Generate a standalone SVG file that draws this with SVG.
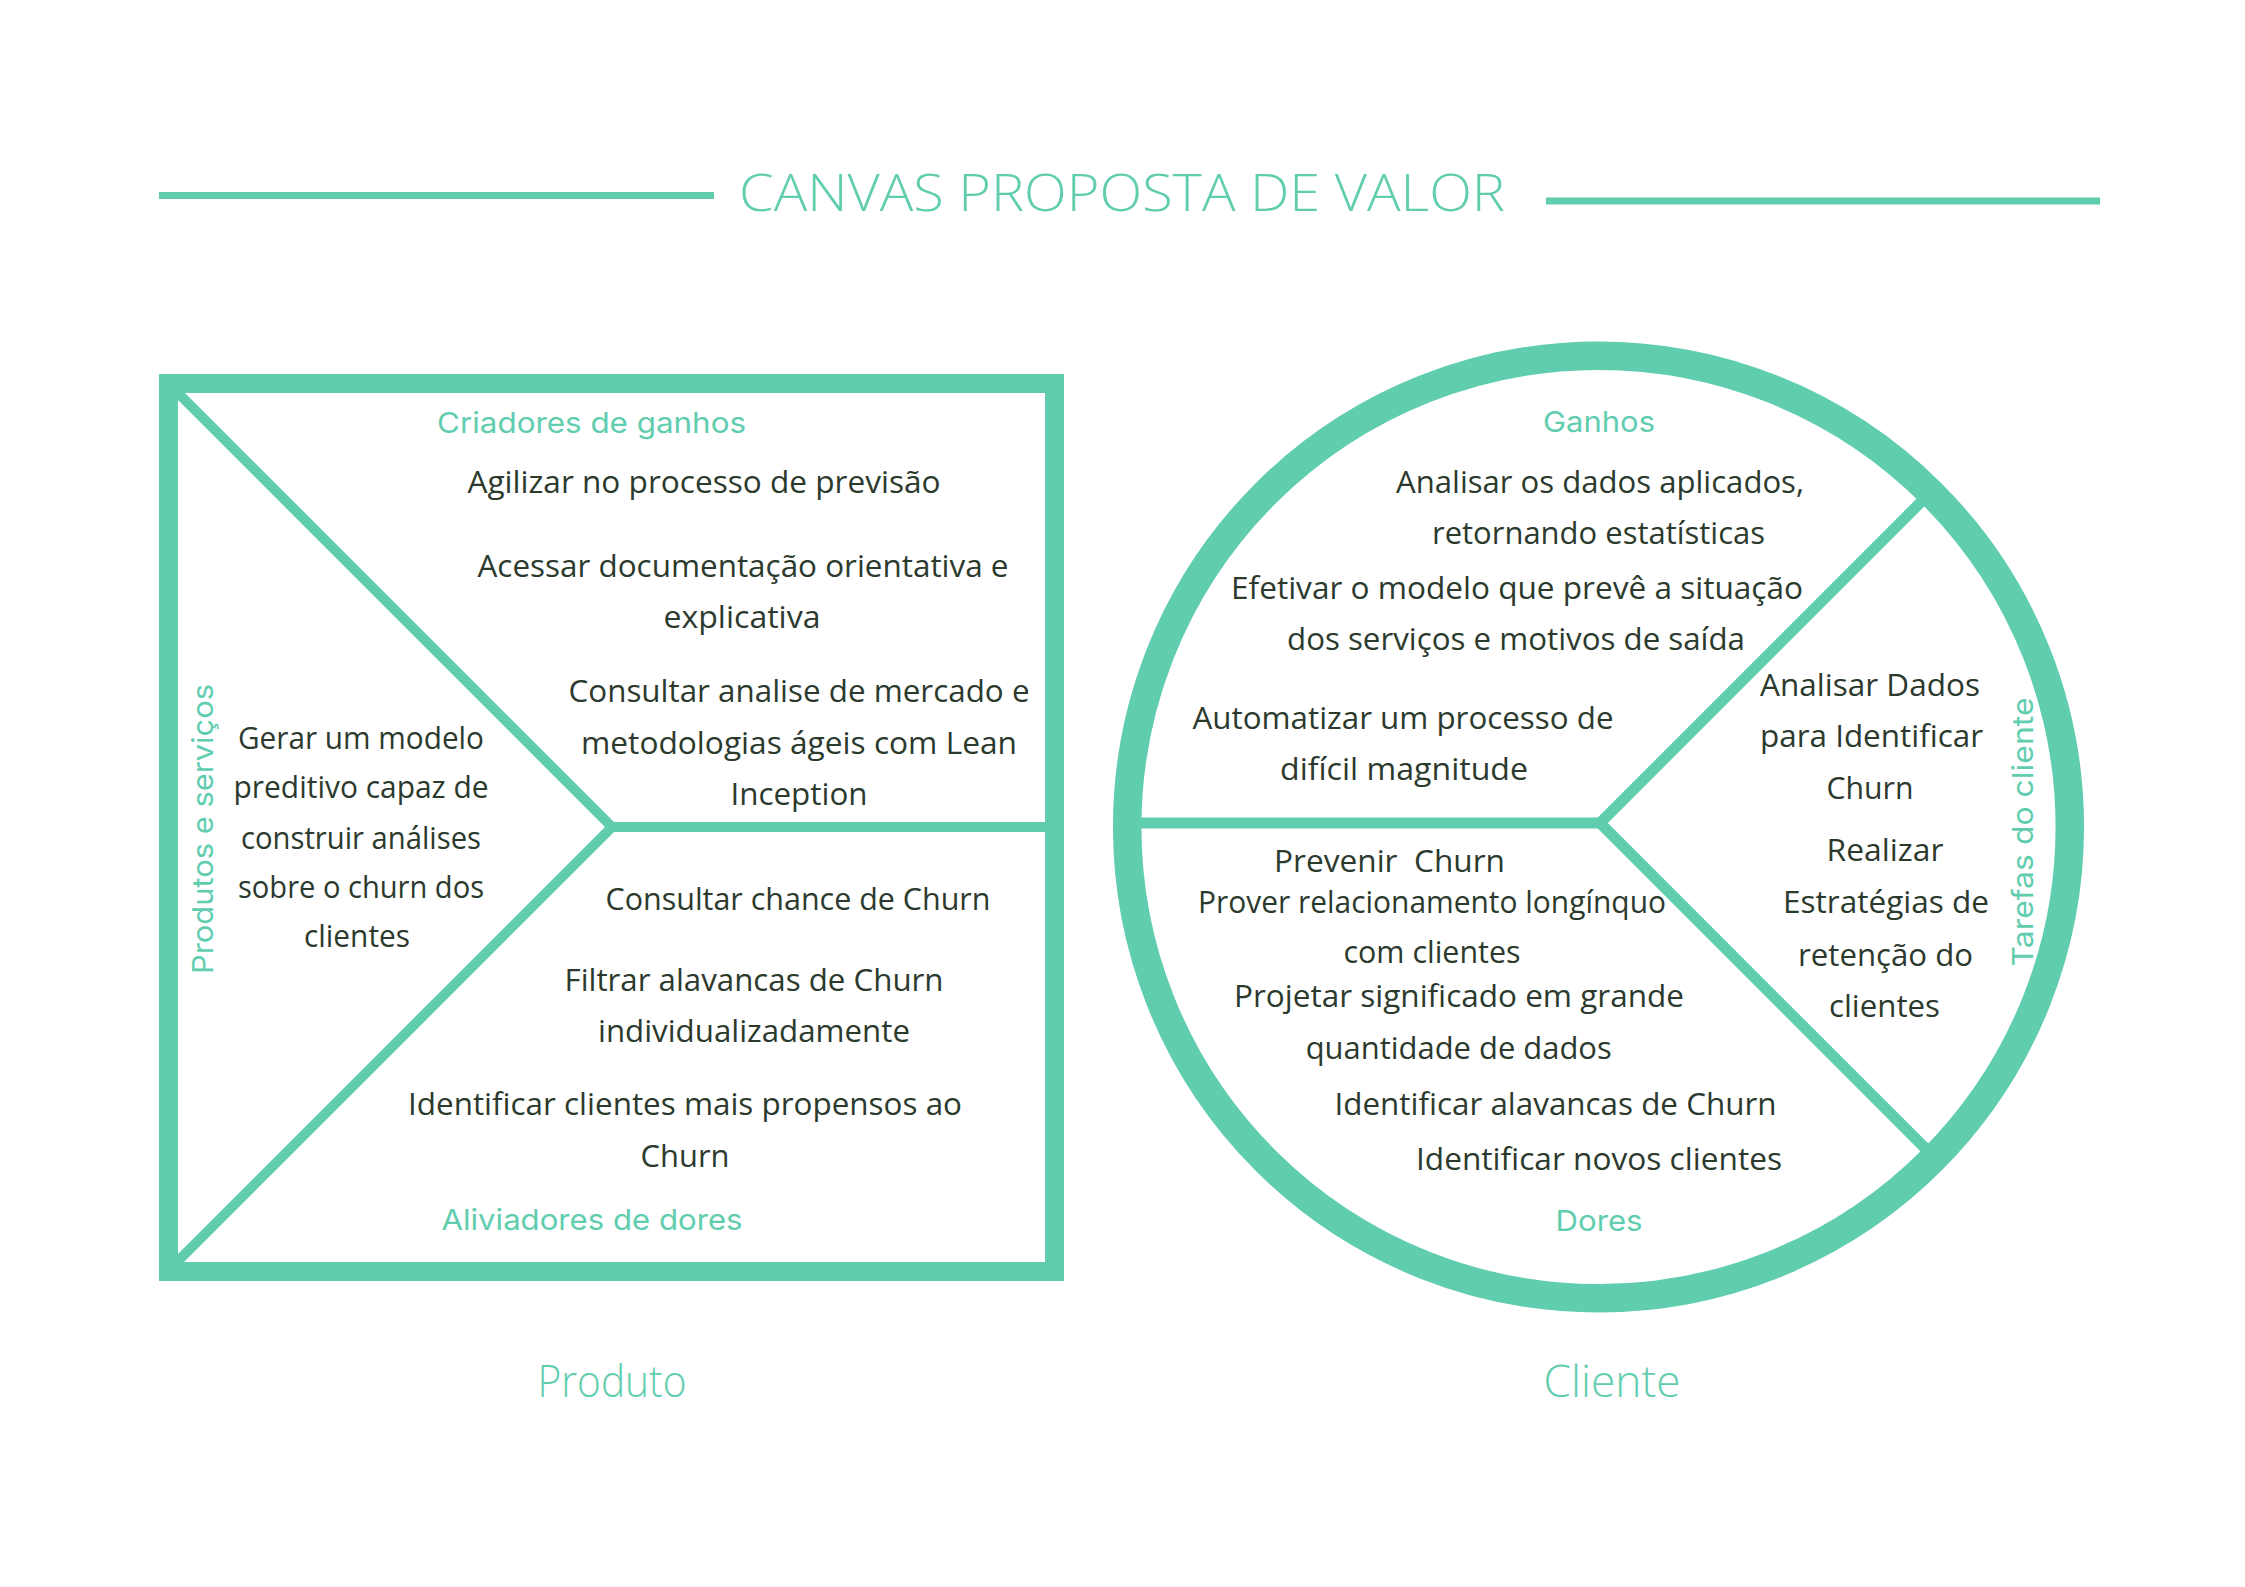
<svg xmlns="http://www.w3.org/2000/svg" width="2245" height="1587" viewBox="0 0 2245 1587">
<style>
.t{font-family:"Open Sans","Liberation Sans",sans-serif;font-size:31px;fill:#2c3a2e;text-anchor:middle}
.lb{font-family:"Inter","Liberation Sans",sans-serif;font-size:29px;fill:#61cdaf;text-anchor:middle}
.ttl{font-family:"Open Sans","Liberation Sans",sans-serif;font-weight:300;fill:#61cdaf;text-anchor:middle}
.ln{stroke:#61cdaf;fill:none}
</style>
<rect width="2245" height="1587" fill="#ffffff"/>
<g id="title">
<line class="ln" x1="159" y1="195.5" x2="714" y2="195.5" stroke-width="7"/>
<line class="ln" x1="1546" y1="201" x2="2100" y2="201" stroke-width="7"/>
<text class="ttl" x="1122" y="211" font-size="52" textLength="766" lengthAdjust="spacingAndGlyphs">CANVAS PROPOSTA DE VALOR</text>
</g>
<g id="connectors">
<polyline class="ln" points="168,383 612,827 168,1271" stroke-width="10" stroke-linejoin="miter"/>
<line class="ln" x1="612" y1="827" x2="1056" y2="827" stroke-width="10"/>
<polyline class="ln" points="1930,493 1600,823 1930,1153" stroke-width="11" stroke-linejoin="miter"/>
<line class="ln" x1="1125" y1="823" x2="1600" y2="823" stroke-width="11"/>
</g>
<g id="produto-frame">
<rect class="ln" x="168.5" y="383.5" width="886" height="888" stroke-width="19"/>
</g>
<g id="cliente-frame">
<circle class="ln" cx="1598.5" cy="827" r="471.3" stroke-width="28.5"/>
</g>
<g id="criadores-de-ganhos">
<text class="lb" x="591.5" y="433" textLength="309" lengthAdjust="spacingAndGlyphs">Criadores de ganhos</text>
<text class="t" x="704" y="493" textLength="473" lengthAdjust="spacingAndGlyphs">Agilizar no processo de previsão</text>
<text class="t" x="743" y="577" textLength="531" lengthAdjust="spacingAndGlyphs">Acessar documentação orientativa e</text>
<text class="t" x="742" y="627.5" textLength="157" lengthAdjust="spacingAndGlyphs">explicativa</text>
<text class="t" x="799" y="702" textLength="461" lengthAdjust="spacingAndGlyphs">Consultar analise de mercado e</text>
<text class="t" x="799" y="754" textLength="436" lengthAdjust="spacingAndGlyphs">metodologias ágeis com Lean</text>
<text class="t" x="799" y="805" textLength="137" lengthAdjust="spacingAndGlyphs">Inception</text>
</g>
<g id="produtos-e-servicos">
<text class="lb" x="213" y="829" transform="rotate(-90 213 829)" textLength="290" lengthAdjust="spacingAndGlyphs">Produtos e serviços</text>
<text class="t" x="361" y="748.5" textLength="246" lengthAdjust="spacingAndGlyphs">Gerar um modelo</text>
<text class="t" x="361" y="797.5" textLength="255" lengthAdjust="spacingAndGlyphs">preditivo capaz de</text>
<text class="t" x="361" y="848.5" textLength="240" lengthAdjust="spacingAndGlyphs">construir análises</text>
<text class="t" x="361" y="897.5" textLength="246" lengthAdjust="spacingAndGlyphs">sobre o churn dos</text>
<text class="t" x="357" y="947" textLength="106" lengthAdjust="spacingAndGlyphs">clientes</text>
</g>
<g id="aliviadores-de-dores">
<text class="t" x="798" y="909.5" textLength="385" lengthAdjust="spacingAndGlyphs">Consultar chance de Churn</text>
<text class="t" x="754" y="991" textLength="379" lengthAdjust="spacingAndGlyphs">Filtrar alavancas de Churn</text>
<text class="t" x="754" y="1042" textLength="312" lengthAdjust="spacingAndGlyphs">individualizadamente</text>
<text class="t" x="685" y="1115" textLength="554" lengthAdjust="spacingAndGlyphs">Identificar clientes mais propensos ao</text>
<text class="t" x="685" y="1167" textLength="89" lengthAdjust="spacingAndGlyphs">Churn</text>
<text class="lb" x="592" y="1229.5" textLength="301" lengthAdjust="spacingAndGlyphs">Aliviadores de dores</text>
</g>
<g id="ganhos">
<text class="lb" x="1599" y="432" textLength="112" lengthAdjust="spacingAndGlyphs">Ganhos</text>
<text class="t" x="1600" y="493" textLength="408" lengthAdjust="spacingAndGlyphs">Analisar os dados aplicados,</text>
<text class="t" x="1598.5" y="543.5" textLength="333" lengthAdjust="spacingAndGlyphs">retornando estatísticas</text>
<text class="t" x="1517" y="598.5" textLength="572" lengthAdjust="spacingAndGlyphs">Efetivar o modelo que prevê a situação</text>
<text class="t" x="1516" y="650" textLength="458" lengthAdjust="spacingAndGlyphs">dos serviços e motivos de saída</text>
<text class="t" x="1403" y="728.5" textLength="421" lengthAdjust="spacingAndGlyphs">Automatizar um processo de</text>
<text class="t" x="1404" y="780" textLength="248" lengthAdjust="spacingAndGlyphs">difícil magnitude</text>
</g>
<g id="tarefas-do-cliente">
<text class="lb" x="2033" y="832" transform="rotate(-90 2033 832)" textLength="269" lengthAdjust="spacingAndGlyphs">Tarefas do cliente</text>
<text class="t" x="1870" y="696" textLength="220" lengthAdjust="spacingAndGlyphs">Analisar Dados</text>
<text class="t" x="1871.5" y="747" textLength="223" lengthAdjust="spacingAndGlyphs">para Identificar</text>
<text class="t" x="1870" y="799" textLength="87" lengthAdjust="spacingAndGlyphs">Churn</text>
<text class="t" x="1885" y="861" textLength="117" lengthAdjust="spacingAndGlyphs">Realizar</text>
<text class="t" x="1886" y="913" textLength="206" lengthAdjust="spacingAndGlyphs">Estratégias de</text>
<text class="t" x="1885.5" y="965.5" textLength="175" lengthAdjust="spacingAndGlyphs">retenção do</text>
<text class="t" x="1884.5" y="1016.5" textLength="111" lengthAdjust="spacingAndGlyphs">clientes</text>
</g>
<g id="dores">
<text class="t" x="1389.5" y="871.5" textLength="231" lengthAdjust="spacingAndGlyphs">Prevenir&#160; Churn</text>
<text class="t" x="1432" y="913" textLength="468" lengthAdjust="spacingAndGlyphs">Prover relacionamento longínquo</text>
<text class="t" x="1432" y="963" textLength="177" lengthAdjust="spacingAndGlyphs">com clientes</text>
<text class="t" x="1459" y="1007" textLength="450" lengthAdjust="spacingAndGlyphs">Projetar significado em grande</text>
<text class="t" x="1458.7" y="1058.5" textLength="306" lengthAdjust="spacingAndGlyphs">quantidade de dados</text>
<text class="t" x="1555.5" y="1115" textLength="442" lengthAdjust="spacingAndGlyphs">Identificar alavancas de Churn</text>
<text class="t" x="1599" y="1170" textLength="366" lengthAdjust="spacingAndGlyphs">Identificar novos clientes</text>
<text class="lb" x="1599" y="1231" textLength="87" lengthAdjust="spacingAndGlyphs">Dores</text>
</g>
<g id="produto-caption">
<text class="ttl" x="612" y="1397" font-size="45" textLength="149" lengthAdjust="spacingAndGlyphs">Produto</text>
</g>
<g id="cliente-caption">
<text class="ttl" x="1612" y="1397" font-size="45" textLength="137" lengthAdjust="spacingAndGlyphs">Cliente</text>
</g>
</svg>
